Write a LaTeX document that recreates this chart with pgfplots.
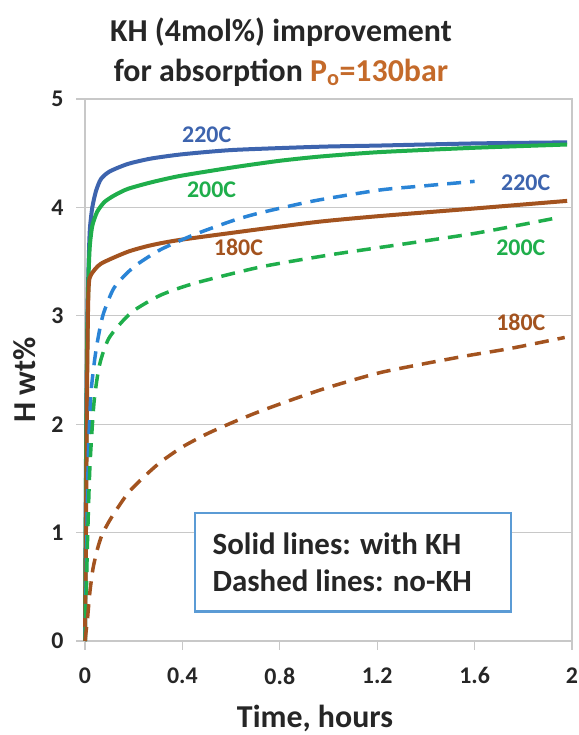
\documentclass[border=0pt]{standalone}
\usepackage{fontspec}
\setmainfont{Carlito}
\usepackage{pgfplots}
\pgfplotsset{compat=1.18}
\definecolor{cblue}{HTML}{3D64AE}
\definecolor{cgreen}{HTML}{1FAE4B}
\definecolor{cbrown}{HTML}{A3531F}
\definecolor{cdblue}{HTML}{2A84D6}
\definecolor{ctitle}{HTML}{C46A2A}
\definecolor{cbox}{HTML}{5B9BD5}
\definecolor{cgrid}{HTML}{C8C8C8}
\begin{document}
\begin{tikzpicture}[x=1bp,y=1bp]
\path[use as bounding box] (0,0) rectangle (579,735);
\begin{axis}[
  at={(85bp,94bp)}, anchor=south west, scale only axis,
  width=487bp, height=542bp,
  xmin=0, xmax=2, ymin=0, ymax=5,
  xtick={0,0.4,0.8,1.2,1.6,2}, xticklabels={0,0.4,0.8,1.2,1.6,2},
  ytick={0,1,2,3,4,5},
  ymajorgrids, grid style={cgrid, line width=1.2bp},
  axis line style={cgrid, line width=1.2bp},
  tick style={cgrid, line width=1.2bp},
  tick align=outside, major tick length=9bp,
  xtick pos=bottom, ytick pos=left,
  /pgf/number format/assume math mode=true,
  ticklabel style={font=\fontsize{24}{26}\selectfont\bfseries, text=black!85},
  xticklabel style={yshift=-14bp},
  yticklabel style={xshift=-9bp},
  clip=false,
]
% with KH (solid)
\addplot[cblue, line width=4bp, smooth, tension=0.4] coordinates {
(0,0)(0.005,2.0)(0.01,3.0)(0.015,3.5)(0.02,3.8)(0.03,4.0)(0.045,4.15)(0.065,4.26)(0.1,4.33)(0.175,4.4)(0.27,4.45)(0.4,4.49)(0.61,4.53)(0.97,4.56)(1.2,4.57)(1.6,4.59)(1.98,4.6)};
\addplot[cgreen, line width=4bp, smooth, tension=0.4] coordinates {
(0,0)(0.005,1.8)(0.01,2.9)(0.015,3.4)(0.02,3.65)(0.03,3.83)(0.05,3.96)(0.08,4.05)(0.12,4.11)(0.175,4.17)(0.27,4.23)(0.39,4.29)(0.61,4.37)(0.8,4.43)(0.97,4.47)(1.21,4.51)(1.6,4.55)(1.98,4.58)};
\addplot[cbrown, line width=4bp, smooth, tension=0.4] coordinates {
(0,0)(0.004,1.0)(0.008,2.2)(0.012,3.0)(0.016,3.3)(0.025,3.38)(0.065,3.48)(0.175,3.59)(0.27,3.65)(0.39,3.7)(0.72,3.8)(0.97,3.87)(1.21,3.92)(1.6,3.99)(1.98,4.06)};
% no KH (dashed)
\addplot[cdblue, line width=3.5bp, dash pattern=on 14bp off 9bp, smooth, tension=0.4] coordinates {
(0,0)(0.005,0.6)(0.01,1.3)(0.015,1.8)(0.025,2.3)(0.045,2.68)(0.073,3.0)(0.12,3.26)(0.2,3.45)(0.31,3.61)(0.45,3.75)(0.61,3.88)(0.72,3.95)(0.94,4.06)(1.21,4.16)(1.4,4.2)(1.6,4.24)};
\addplot[cgreen, line width=3.5bp, dash pattern=on 14bp off 9bp, smooth, tension=0.4] coordinates {
(0,0)(0.005,0.4)(0.01,0.9)(0.02,1.6)(0.037,2.2)(0.06,2.55)(0.1,2.8)(0.19,3.03)(0.31,3.19)(0.45,3.3)(0.72,3.45)(1.0,3.56)(1.21,3.63)(1.6,3.76)(1.93,3.9)};
\addplot[cbrown, line width=3.5bp, dash pattern=on 14bp off 9bp, smooth, tension=0.4] coordinates {
(0,0)(0.01,0.2)(0.02,0.45)(0.033,0.67)(0.05,0.84)(0.07,0.98)(0.106,1.13)(0.175,1.36)(0.24,1.51)(0.31,1.65)(0.4,1.79)(0.5,1.91)(0.61,2.02)(0.72,2.12)(0.855,2.23)(1.0,2.34)(1.22,2.48)(1.54,2.62)(1.75,2.7)(1.97,2.8)};
% curve labels
\node[text=cblue, font=\fontsize{24}{26}\selectfont\bfseries] at (axis cs:0.5,4.67) {220C};
\node[text=cgreen, font=\fontsize{24}{26}\selectfont\bfseries] at (axis cs:0.52,4.16) {200C};
\node[text=cbrown, font=\fontsize{24}{26}\selectfont\bfseries] at (axis cs:0.63,3.63) {180C};
\node[text=cblue, font=\fontsize{24}{26}\selectfont\bfseries] at (axis cs:1.81,4.23) {220C};
\node[text=cgreen, font=\fontsize{24}{26}\selectfont\bfseries] at (axis cs:1.79,3.63) {200C};
\node[text=cbrown, font=\fontsize{24}{26}\selectfont\bfseries] at (axis cs:1.79,2.94) {180C};
% note box
\draw[cbox, line width=2.5bp, fill=white] (axis cs:0.451,0.27) rectangle (axis cs:1.75,1.18);
\node[anchor=west, align=left, font=\fontsize{31}{37}\selectfont\bfseries, text=black!85] at (axis cs:0.51,0.725) {Solid lines: with KH\\Dashed lines: no-KH};
\end{axis}
% titles
\node[font=\fontsize{32}{36}\selectfont\bfseries, text=black!85] at (281,703) {KH (4mol\%) improvement};
\node[font=\fontsize{32}{36}\selectfont\bfseries, text=black!85] at (281,662) {for absorption \textcolor{ctitle}{P\textsubscript{o}=130bar}};
\node[font=\fontsize{32}{36}\selectfont\bfseries, text=black!85] at (315,17) {Time, hours};
\node[font=\fontsize{32}{36}\selectfont\bfseries, text=black!85, rotate=90] at (25,355) {H wt\%};
\end{tikzpicture}
\end{document}
